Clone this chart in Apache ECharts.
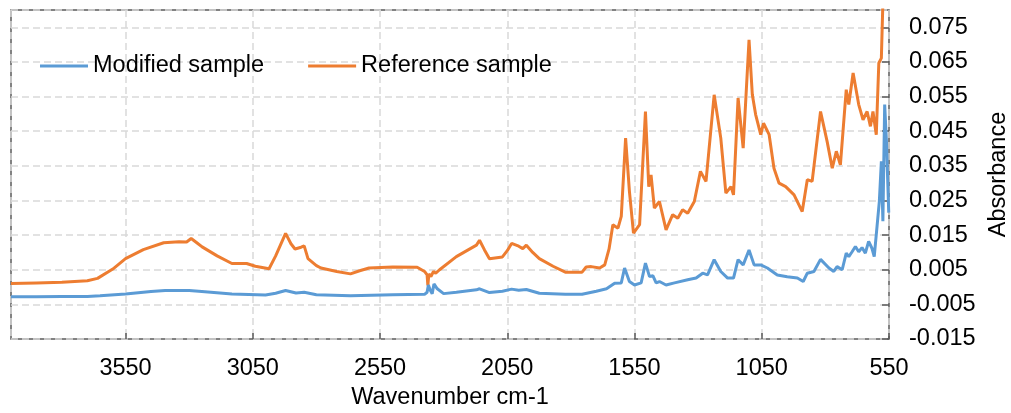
<!DOCTYPE html>
<html>
<head>
<meta charset="utf-8">
<script src="https://cdn.jsdelivr.net/npm/echarts@6/dist/echarts.min.js"></script>
<style>
html,body{margin:0;padding:0;background:#fff;}
#chart{width:1011px;height:413px;}
</style>
</head>
<body>
<div id="chart"></div>
<script>
// Wavenumber (cm-1) and absorbance
var refWavenumber = [4000,3900,3800,3700,3660,3600,3550,3480,3400,3340,3310,3292,3270,3249,3190,3132,3074,3040,2986,2960,2921,2900,2884,2860,2848,2833,2800,2782,2720,2666,2630,2593,2500,2404,2375,2365,2362,2358,2350,2340,2331,2316,2250,2171,2159,2140,2120,2069,2050,2033,2005,1989,1975,1950,1924,1870,1822,1756,1740,1720,1687,1667,1650,1635,1615,1602,1585,1570,1554,1530,1507,1494,1485,1472,1452,1426,1400,1380,1361,1341,1315,1291,1269,1237,1211,1191,1171,1161,1143,1123,1100,1087,1074,1054,1043,1021,1002,982,956,923,891,871,852,819,793,773,757,741,718,708,691,669,652,636,623,613,600,590,580,573,560,550];
var refAbsorbance = [0.0010,0.0012,0.0014,0.0018,0.0025,0.0052,0.0082,0.0108,0.0128,0.0131,0.0130,0.0140,0.0128,0.0116,0.0090,0.0068,0.0068,0.0060,0.0053,0.0090,0.0155,0.0125,0.0110,0.0115,0.0119,0.0082,0.0062,0.0055,0.0045,0.0038,0.0047,0.0055,0.0058,0.0057,0.0045,0.0035,0.0005,0.0038,0.0030,0.0045,0.0040,0.0050,0.0088,0.0121,0.0135,0.0108,0.0082,0.0087,0.0105,0.0126,0.0118,0.0111,0.0121,0.0100,0.0082,0.0060,0.0043,0.0043,0.0058,0.0059,0.0055,0.0064,0.0110,0.0180,0.0170,0.0204,0.0430,0.0276,0.0156,0.0180,0.0507,0.0290,0.0324,0.0228,0.0247,0.0165,0.0209,0.0199,0.0223,0.0213,0.0247,0.0334,0.0305,0.0555,0.0430,0.0271,0.0290,0.0266,0.0546,0.0401,0.0714,0.0555,0.0498,0.0440,0.0473,0.0440,0.0343,0.0300,0.0290,0.0266,0.0218,0.0310,0.0305,0.0507,0.0420,0.0343,0.0392,0.0353,0.0570,0.0527,0.0618,0.0527,0.0483,0.0507,0.0464,0.0507,0.0440,0.0647,0.0661,0.0850,0.0950,0.1000];

var modWavenumber = [4000,3900,3800,3700,3650,3550,3450,3394,3300,3250,3132,3000,2960,2921,2880,2848,2800,2666,2500,2375,2365,2360,2352,2345,2338,2325,2300,2250,2171,2159,2120,2069,2033,2005,1975,1924,1822,1756,1700,1660,1628,1602,1589,1570,1550,1524,1507,1491,1478,1465,1452,1426,1393,1341,1308,1282,1263,1237,1211,1184,1161,1143,1123,1100,1080,1054,1028,989,950,910,887,871,845,819,786,767,754,734,718,708,695,682,669,656,643,630,617,608,597,588,580,574,567,560,551];
var modAbsorbance = [-0.0028,-0.0028,-0.0027,-0.0027,-0.0025,-0.0020,-0.0013,-0.0010,-0.0010,-0.0013,-0.0020,-0.0023,-0.0018,-0.0010,-0.0017,-0.0015,-0.0022,-0.0025,-0.0022,-0.0021,-0.0015,0.0006,-0.0010,-0.0019,0.0009,-0.0005,-0.0019,-0.0015,-0.0008,-0.0005,-0.0016,-0.0012,-0.0006,-0.0009,-0.0007,-0.0018,-0.0021,-0.0021,-0.0012,-0.0005,0.0011,0.0012,0.0055,0.0016,0.0006,0.0012,0.0069,0.0030,0.0033,0.0012,0.0016,0.0006,0.0012,0.0021,0.0026,0.0040,0.0035,0.0079,0.0045,0.0026,0.0026,0.0079,0.0064,0.0107,0.0064,0.0064,0.0055,0.0035,0.0030,0.0026,0.0016,0.0040,0.0045,0.0080,0.0055,0.0045,0.0059,0.0050,0.0098,0.0088,0.0102,0.0117,0.0102,0.0114,0.0098,0.0132,0.0112,0.0088,0.0175,0.0247,0.0363,0.0190,0.0527,0.0420,0.0215];

var seriesNames = ['Modified sample', 'Reference sample'];
var xAxisTitle = 'Wavenumber cm-1';
var yAxisTitle = 'Absorbance';

function pairs(xs, ys) {
  var out = [];
  for (var i = 0; i < xs.length; i++) out.push([xs[i], ys[i]]);
  return out;
}

var FONT = 'Liberation Sans, Arial, sans-serif';
var FS = 23.5;
var frameColor = '#595959';
var gridColor = '#d9d9d9';

var chart = echarts.init(document.getElementById('chart'), null, {renderer: 'canvas'});
chart.setOption({
  animation: false,
  backgroundColor: '#ffffff',
  textStyle: {fontFamily: FONT},
  grid: {
    left: 11, right: 122, top: 10, bottom: 74,
    show: true, borderColor: frameColor, borderWidth: 1.5,
    containLabel: false,
    outerBoundsMode: 'none'
  },
  legend: {
    left: 35, top: 49,
    icon: 'rect',
    itemWidth: 48, itemHeight: 3, itemGap: 44,
    textStyle: {fontFamily: FONT, fontSize: FS, color: '#000'},
    data: seriesNames
  },
  xAxis: {
    type: 'value',
    inverse: true,
    min: 550, max: 4000, interval: 500,
    name: xAxisTitle,
    nameLocation: 'middle',
    nameGap: 47,
    nameTextStyle: {fontFamily: FONT, fontSize: FS, color: '#000'},
    axisLine: {show: false, onZero: false},
    axisTick: {show: true, inside: true, length: 6, lineStyle: {color: frameColor, width: 1.5}},
    axisLabel: {
      fontFamily: FONT, fontSize: FS, color: '#000', margin: 18,
      showMinLabel: true, showMaxLabel: false,
      formatter: function (v) { return String(Math.round(v)); }
    },
    splitLine: {show: true, lineStyle: {color: gridColor, type: [7, 4], width: 1.5}}
  },
  yAxis: {
    type: 'value',
    position: 'right',
    min: -0.015, max: 0.08, interval: 0.01,
    name: yAxisTitle,
    nameLocation: 'middle',
    nameRotate: 90,
    nameGap: 96,
    nameTextStyle: {fontFamily: FONT, fontSize: FS, color: '#000'},
    axisLine: {show: false, onZero: false},
    axisTick: {show: true, inside: true, length: 7, lineStyle: {color: frameColor, width: 1.5}},
    axisLabel: {
      fontFamily: FONT, fontSize: FS, color: '#000', margin: 20,
      showMinLabel: true, showMaxLabel: false,
      formatter: function (v) { return v.toFixed(3); }
    },
    splitLine: {show: true, lineStyle: {color: gridColor, type: [7, 4], width: 1.5}}
  },
  series: [
    {
      name: seriesNames[0], type: 'line', showSymbol: false, symbol: 'none',
      data: pairs(modWavenumber, modAbsorbance),
      lineStyle: {color: '#5B9BD5', width: 3},
      itemStyle: {color: '#5B9BD5'},
      clip: true, z: 3
    },
    {
      name: seriesNames[1], type: 'line', showSymbol: false, symbol: 'none',
      data: pairs(refWavenumber, refAbsorbance),
      lineStyle: {color: '#ED7D31', width: 3},
      itemStyle: {color: '#ED7D31'},
      clip: true, z: 2
    }
  ]
});
</script>
</body>
</html>
